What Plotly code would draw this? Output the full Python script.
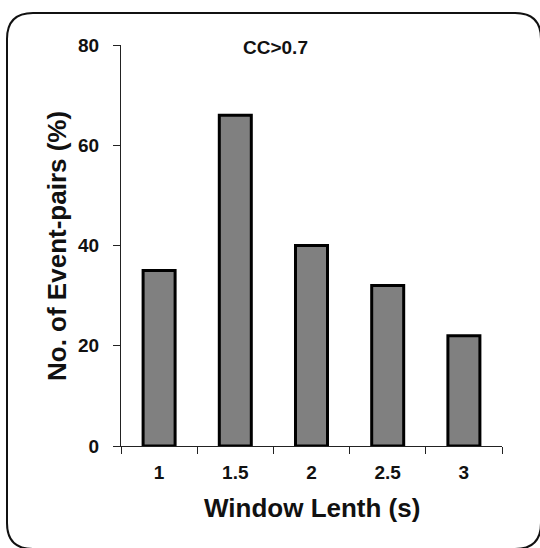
import plotly.graph_objects as go

categories = ["1", "1.5", "2", "2.5", "3"]
values = [35, 66, 40, 32, 22]
y_ticks = [0, 20, 40, 60, 80]

W, H = 540, 548
L, R, T, B = 121, 502, 45, 446  # plot area pixels


def px(x):
    return (x - L) / (R - L)


def py(y):
    return (B - y) / (B - T)


def rounded_rect(x0, y0, x1, y1, r):
    return (
        f"M {px(x0 + r)} {py(y0)} L {px(x1 - r)} {py(y0)} "
        f"Q {px(x1)} {py(y0)} {px(x1)} {py(y0 + r)} "
        f"L {px(x1)} {py(y1 - r)} "
        f"Q {px(x1)} {py(y1)} {px(x1 - r)} {py(y1)} "
        f"L {px(x0 + r)} {py(y1)} "
        f"Q {px(x0)} {py(y1)} {px(x0)} {py(y1 - r)} "
        f"L {px(x0)} {py(y0 + r)} "
        f"Q {px(x0)} {py(y0)} {px(x0 + r)} {py(y0)} Z"
    )


fig = go.Figure(
    go.Bar(
        x=categories,
        y=values,
        width=0.42,
        marker=dict(color="#808080", line=dict(color="black", width=3)),
    )
)

font = "Liberation Sans, Arial, sans-serif"
fig.update_layout(
    width=W,
    height=H,
    margin=dict(l=L, r=W - R, t=T, b=H - B, autoexpand=False),
    paper_bgcolor="white",
    plot_bgcolor="white",
    showlegend=False,
    font=dict(family=font, color="#111"),
    xaxis=dict(
        type="category",
        tickson="boundaries",
        ticks="outside",
        ticklen=7,
        tickcolor="#222",
        showline=True,
        linecolor="#222",
        linewidth=1,
        showgrid=False,
        tickfont=dict(size=19, family=font, weight="bold"),
        ticklabelstandoff=9,
        automargin=False,
    ),
    yaxis=dict(
        range=[0, 80],
        tickvals=y_ticks,
        ticks="outside",
        ticklen=7,
        tickcolor="#222",
        showline=True,
        linecolor="#222",
        linewidth=1,
        showgrid=False,
        zeroline=False,
        tickfont=dict(size=19, family=font, weight="bold"),
        ticklabelstandoff=10,
        automargin=False,
    ),
    shapes=[
        dict(
            type="path",
            xref="paper",
            yref="paper",
            path=rounded_rect(7, 13, 541, 549, 26),
            line=dict(color="#111", width=2),
            fillcolor="rgba(0,0,0,0)",
            layer="below",
        )
    ],
    annotations=[
        dict(
            text="<b>CC>0.7</b>",
            xref="paper", yref="paper",
            x=px(275), y=py(47),
            showarrow=False,
            font=dict(size=19, family=font),
            xanchor="center", yanchor="middle",
        ),
        dict(
            text="<b>Window Lenth (s)</b>",
            xref="paper", yref="paper",
            x=px(312), y=py(508),
            showarrow=False,
            font=dict(size=26, family=font),
            xanchor="center", yanchor="middle",
        ),
        dict(
            text="<b>No. of Event-pairs (%)</b>",
            xref="paper", yref="paper",
            x=px(57), y=py(246),
            textangle=-90,
            showarrow=False,
            font=dict(size=26, family=font),
            xanchor="center", yanchor="middle",
        ),
    ],
)

fig.write_html(
    "out.html",
    config={"displayModeBar": False},
    post_script="document.body.style.margin='0';document.body.style.overflow='hidden';",
)
